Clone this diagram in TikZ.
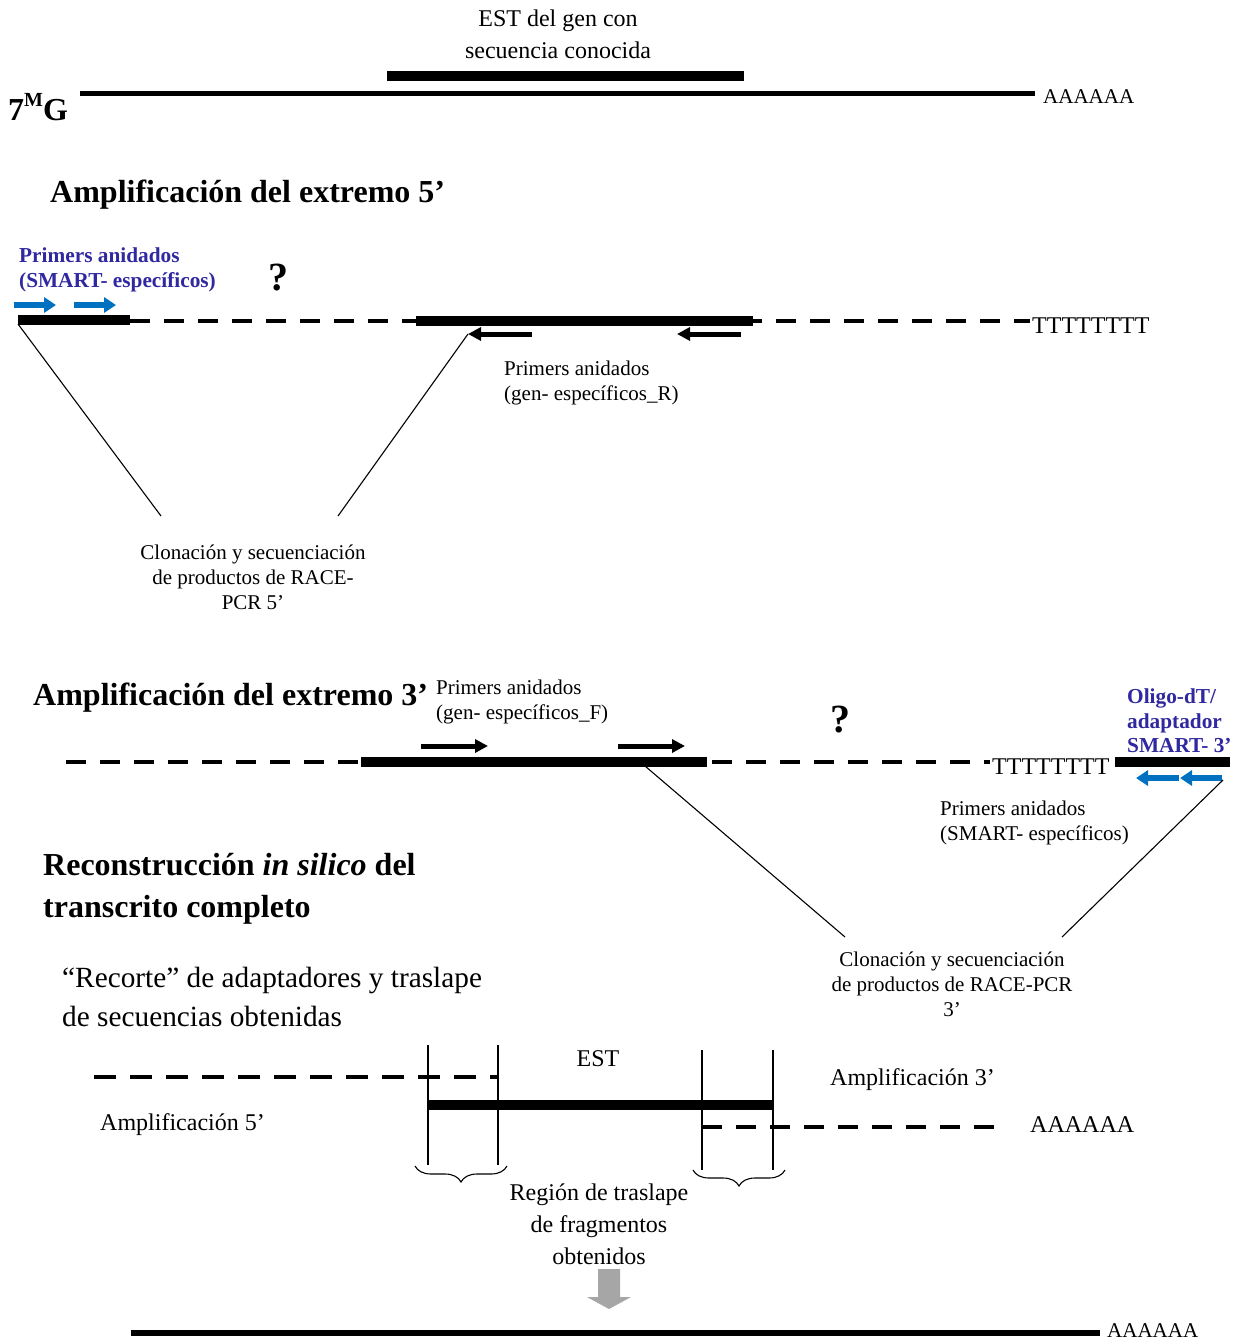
\documentclass[tikz,border=0pt]{standalone}
\usepackage{fontspec}
\setmainfont{Liberation Serif}
\usetikzlibrary{arrows.meta,decorations.pathreplacing}
\definecolor{primblue}{RGB}{0,112,192}
\definecolor{txtblue}{RGB}{48,40,160}
\definecolor{arrgray}{RGB}{166,166,166}
\begin{document}
\begin{tikzpicture}[x=1pt,y=-1pt,
  thinline/.style={line width=5pt},
  bar/.style={line width=10pt},
  dashline/.style={line width=4pt,dash pattern=on 20pt off 14pt},
  conn/.style={line width=1.1pt},
  primer/.style={line width=5pt,-{Triangle[length=13pt,width=13pt]}},
  bprimer/.style={line width=6pt,color=primblue,-{Triangle[length=12pt,width=15pt]}},
  txt/.style={inner sep=0pt,font=\fontsize{21}{25}\selectfont},
  txtl/.style={inner sep=0pt,font=\fontsize{24}{32}\selectfont},
  head/.style={inner sep=0pt,font=\fontsize{32}{42}\selectfont\bfseries},
  btxt/.style={inner sep=0pt,font=\fontsize{21.3}{24.5}\selectfont\bfseries,text=txtblue},
  qm/.style={inner sep=0pt,font=\fontsize{40}{42}\selectfont\bfseries},
  brace/.style={decorate,decoration={brace,amplitude=16pt,aspect=0.5,mirror},line width=1.1pt}
]
\useasboundingbox[fill=white] (0,0) rectangle (1243,1341);

% ---------- top: mRNA ----------
\node[txtl,align=center] (esttop) at (558,34) {EST del gen con\\secuencia conocida};
\coordinate (e1) at (387,76); \coordinate (e2) at (744,76);
\draw[bar] (e1) -- (e2);
\coordinate (m1) at (80,93); \coordinate (m2) at (1035,93);
\draw[thinline] (m1) -- (m2);
\node[txt,anchor=west] (polyA1) at (1043,97) {AAAAAA};
\node[inner sep=0pt,font=\fontsize{32}{36}\selectfont\bfseries,anchor=west] (cap) at (8,107) {7\raisebox{0.42em}{\fontsize{20}{22}\selectfont M}G};

% ---------- 5' amplification ----------
\node[head,anchor=west] (h5) at (50,195) {Amplificación del extremo 5’};
\node[btxt,anchor=west,align=left] (smart5) at (19,270) {Primers anidados\\(SMART- específicos)};
\node[qm] (q5) at (278,278) {?};
\coordinate (ba1) at (14,305); \coordinate (ba2) at (56,305);
\coordinate (ba3) at (74,305); \coordinate (ba4) at (116,305);
\draw[bprimer] (ba1) -- (ba2);
\draw[bprimer] (ba3) -- (ba4);
\coordinate (s1) at (18,320); \coordinate (s2) at (130,320);
\coordinate (d1) at (130,321); \coordinate (d2) at (1030,321);
\draw[dashline] (d1) -- (d2);
\draw[bar] (s1) -- (s2);
\coordinate (g1) at (416,321); \coordinate (g2) at (753,321);
\draw[bar] (g1) -- (g2);
\node[txtl,anchor=west] (polyT5) at (1032,326) {TTTTTTTT};
\coordinate (r1a) at (532,334); \coordinate (r1b) at (468,334);
\coordinate (r2a) at (741,334); \coordinate (r2b) at (677,334);
\draw[primer] (r1a) -- (r1b);
\draw[primer] (r2a) -- (r2b);
\node[txt,anchor=west,align=left] (genR) at (504,383) {Primers anidados\\(gen- específicos\_R)};
\node[txt,align=center] (clon5) at (253,577) {Clonación y secuenciación\\de productos de RACE-\\PCR 5’};
\coordinate (c5a) at (161,516); \coordinate (c5b) at (338,516);
\draw[conn] (18,324) -- (c5a);
\draw[conn] (r1b) -- (c5b);

% ---------- 3' amplification ----------
\node[head,anchor=west] (h3) at (33,698) {Amplificación del extremo 3’};
\node[txt,anchor=west,align=left] (genF) at (436,702) {Primers anidados\\(gen- específicos\_F)};
\node[qm] (q3) at (840,720) {?};
\node[btxt,anchor=west,align=left] (oligo) at (1127,721) {Oligo-dT/\\adaptador\\SMART- 3’};
\coordinate (dd1) at (66,762); \coordinate (dd2) at (990,762);
\draw[dashline] (dd1) -- (dd2);
\coordinate (h1) at (361,762); \coordinate (h2) at (707,762);
\draw[bar] (h1) -- (h2);
\coordinate (f1a) at (421,746); \coordinate (f1b) at (488,746);
\coordinate (f2a) at (618,746); \coordinate (f2b) at (685,746);
\draw[primer] (f1a) -- (f1b);
\draw[primer] (f2a) -- (f2b);
\node[txtl,anchor=west] (polyT3) at (992,767) {TTTTTTTT};
\coordinate (o1) at (1115,762); \coordinate (o2) at (1230,762);
\draw[bar] (o1) -- (o2);
\coordinate (bb1) at (1179,778); \coordinate (bb2) at (1136,778);
\coordinate (bb3) at (1222,778); \coordinate (bb4) at (1180,778);
\draw[bprimer] (bb1) -- (bb2);
\draw[bprimer] (bb3) -- (bb4);
\node[txt,anchor=west,align=left] (smart3) at (940,823) {Primers anidados\\(SMART- específicos)};
\node[txt,align=center] (clon3) at (952,984) {Clonación y secuenciación\\de productos de RACE-PCR\\3’};
\coordinate (c3a) at (845,937); \coordinate (c3b) at (1062,937);
\coordinate (c3s) at (645,766); \coordinate (c3t) at (1223,780);
\draw[conn] (c3s) -- (c3a);
\draw[conn] (c3t) -- (c3b);

% ---------- reconstruction ----------
\node[head,anchor=west,align=left] (hrec) at (43,889) {Reconstrucción \textit{in silico} del\\transcrito completo};
\node[inner sep=0pt,font=\fontsize{29.3}{39}\selectfont,anchor=west,align=left] (recorte) at (62,997) {“Recorte” de adaptadores y traslape\\de secuencias obtenidas};
\coordinate (a5a) at (94,1077); \coordinate (a5b) at (498,1077);
\draw[line width=4pt,dash pattern=on 22pt off 14pt] (a5a) -- (a5b);
\coordinate (ea) at (428,1105); \coordinate (eb) at (773,1105);
\draw[bar] (ea) -- (eb);
\coordinate (a3a) at (702,1127); \coordinate (a3b) at (1000,1127);
\draw[dashline] (a3a) -- (a3b);
\foreach \xx/\yt/\yb [count=\i] in {428/1045/1165, 498/1045/1165, 702/1050/1170, 773/1050/1170}{
  \coordinate (vt\i) at (\xx,\yt); \coordinate (vb\i) at (\xx,\yb);
  \draw[conn] (vt\i) -- (vb\i);
}
\node[txtl] (est) at (598,1059) {EST};
\node[txtl,anchor=west] (amp3) at (830,1080) {Amplificación 3’};
\node[txtl,anchor=west] (amp5) at (100,1125) {Amplificación 5’};
\node[txtl,anchor=west] (polyA2) at (1030,1125) {AAAAAA};
\coordinate (br1a) at (415,1166); \coordinate (br1b) at (507,1166);
\coordinate (br2a) at (693,1170); \coordinate (br2b) at (785,1170);
\draw[brace] (br1a) -- (br1b);
\draw[brace] (br2a) -- (br2b);
\node[txtl,align=center] (region) at (599,1224) {Región de traslape\\de fragmentos\\obtenidos};
\fill[arrgray] (598,1269) -- (620,1269) -- (620,1297) -- (631,1297) -- (609,1309) -- (587,1297) -- (598,1297) -- cycle;
\coordinate (fa) at (131,1333); \coordinate (fb) at (1100,1333);
\draw[line width=6pt] (fa) -- (fb);
\node[txt,anchor=west] (polyA3) at (1107,1331) {AAAAAA};
\end{tikzpicture}
\end{document}
